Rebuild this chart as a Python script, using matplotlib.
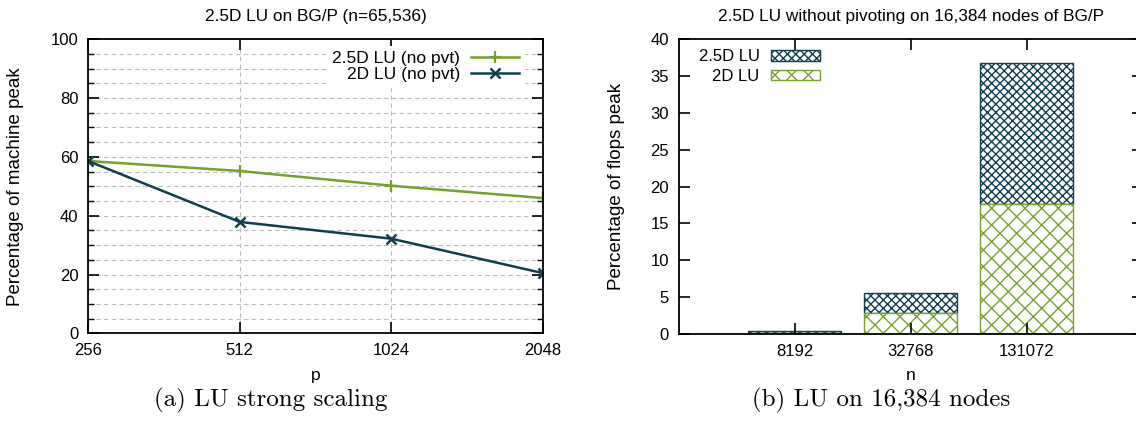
import numpy as np
import matplotlib
matplotlib.use('Agg')
import matplotlib.pyplot as plt
from matplotlib.ticker import MultipleLocator, NullLocator, FixedLocator

plt.rcParams['font.family'] = ['Liberation Sans', 'DejaVu Sans']
plt.rcParams['hatch.linewidth'] = 1.0

green = '#77a02c'
navy = '#0f3e50'

# (a) strong scaling, n=65,536
procs = [256, 512, 1024, 2048]
lu25_pct = [58.6, 55.2, 50.2, 46.0]
lu2d_pct = [58.6, 37.9, 32.2, 20.5]

# (b) 16,384 nodes
sizes = ['8192', '32768', '131072']
bar_25d = [0.4, 5.6, 36.8]
bar_2d = [0.2, 2.9, 17.6]

fig = plt.figure(figsize=(11.36, 4.25), dpi=100)

# ---- left panel
ax1 = fig.add_axes([0.0775, 0.2153, 0.4005, 0.6927])
ax1.plot(procs, lu25_pct, color=green, lw=1.8, marker='+', ms=9, mew=1.6,
         label='2.5D LU (no pvt)')
ax1.plot(procs, lu2d_pct, color=navy, lw=1.8, marker='x', ms=7, mew=1.8,
         label='2D LU (no pvt)')
ax1.set_xscale('log', base=2)
ax1.set_xlim(256, 2048)
ax1.set_ylim(0, 100)
ax1.xaxis.set_major_locator(FixedLocator(procs))
ax1.xaxis.set_minor_locator(NullLocator())
ax1.set_xticklabels([str(p) for p in procs])
ax1.yaxis.set_major_locator(MultipleLocator(20))
ax1.yaxis.set_minor_locator(MultipleLocator(5))
ax1.grid(True, which='both', axis='y', color='#bbbbbb', ls=(0, (4, 3)), lw=0.8)
ax1.grid(True, which='major', axis='x', color='#bbbbbb', ls=(0, (4, 3)), lw=0.8)
ax1.set_axisbelow(True)
ax1.tick_params(which='both', direction='in', top=True, right=True, labelsize=12, pad=7)
ax1.tick_params(which='major', length=8, width=1.2)
ax1.tick_params(which='minor', length=4, width=1.0)
for s in ax1.spines.values():
    s.set_linewidth(1.3)
ax1.set_xlabel('p', fontsize=12.5, labelpad=7)
ax1.set_ylabel('Percentage of machine peak', fontsize=13.5)
ax1.yaxis.set_label_coords(-0.141, 0.5)
ax1.set_title('2.5D LU on BG/P (n=65,536)', fontsize=12.4, pad=13)
ax1.legend(loc='upper right', bbox_to_anchor=(0.967, 0.99), markerfirst=False,
           frameon=True, fancybox=False, edgecolor='none', framealpha=1,
           fontsize=12.5, handlelength=2.8, labelspacing=0.05,
           borderpad=0.3, borderaxespad=0.2, handletextpad=0.6)

# ---- right panel
ax2 = fig.add_axes([0.5973, 0.214, 0.4089, 0.694])
xpos = np.arange(1, len(sizes) + 1)
lo = np.array(bar_2d)
hi = np.array(bar_25d)
ax2.bar(xpos, hi - lo, bottom=lo, width=0.8, color='white', edgecolor=navy,
        hatch='xxxx', lw=1.0, label='2.5D LU')
ax2.bar(xpos, lo, width=0.8, color='white', edgecolor=green,
        hatch='xx', lw=1.0, label='2D LU')
ax2.set_xlim(0, 4)
ax2.set_ylim(0, 40)
ax2.set_xticks(xpos)
ax2.set_xticklabels(sizes)
ax2.yaxis.set_major_locator(MultipleLocator(5))
ax2.tick_params(direction='in', top=True, right=True, labelsize=12, pad=7,
                length=8, width=1.2)
for s in ax2.spines.values():
    s.set_linewidth(1.3)
ax2.set_xlabel('n', fontsize=12.5, labelpad=7)
ax2.set_ylabel('Percentage of flops peak', fontsize=13.5)
ax2.yaxis.set_label_coords(-0.115, 0.5)
ax2.set_title('2.5D LU without pivoting on 16,384 nodes of BG/P', fontsize=12.4, pad=13)
ax2.legend(loc='upper left', bbox_to_anchor=(0.0215, 0.999), markerfirst=False,
           frameon=False, fontsize=12, handlelength=2.9, handleheight=0.55,
           labelspacing=0.25, borderaxespad=0.2, handletextpad=0.7)

# captions
fig.text(0.238, 0.058, '(a) LU strong scaling', fontsize=18, family='cmr10',
         ha='center', va='center')
fig.text(0.7755, 0.058, '(b) LU on 16,384 nodes', fontsize=18, family='cmr10',
         ha='center', va='center')

fig.savefig('out.png', dpi=100)
